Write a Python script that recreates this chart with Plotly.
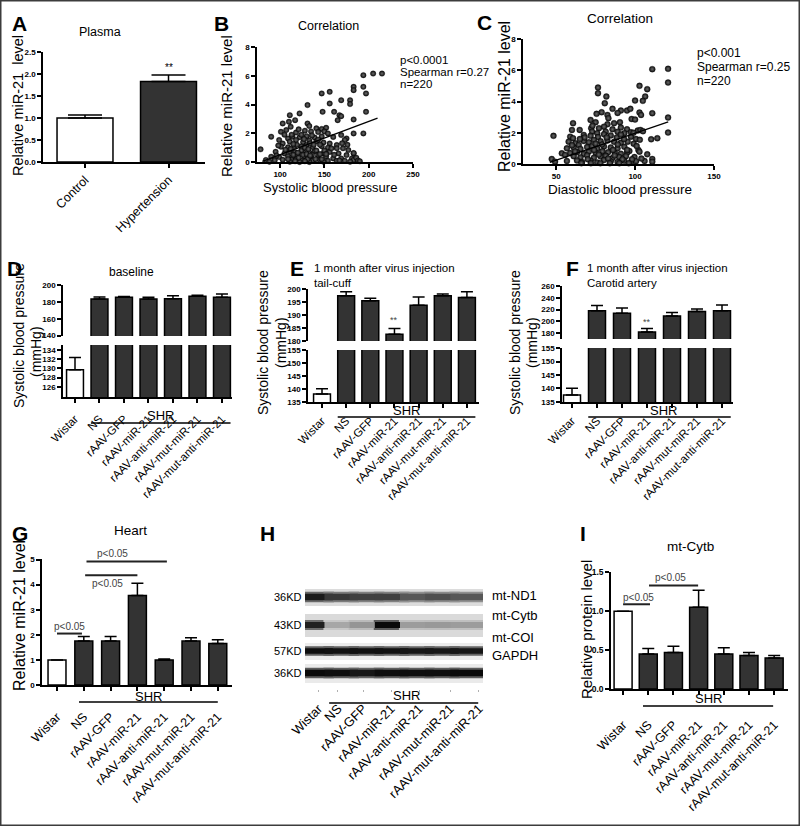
import plotly.graph_objects as go

W, H = 800, 826
FONT = "Arial, Liberation Sans, sans-serif"

# ------------------------------------------------------------------ data
# Panel A - plasma miR-21
a_groups = ["Control", "Hypertension"]
a_mean = [1.00, 1.83]
a_top = [1.07, 1.98]

# Panel B - miR-21 vs systolic blood pressure
b_sbp = [194, 205, 215, 183, 183, 194, 197, 156, 147, 169, 179, 179, 131, 156,
         148, 161, 167, 169, 165, 122, 111, 110, 117, 183, 197,
         103, 112, 131, 133, 141, 147, 152, 90, 78,
         101, 107, 118, 121, 128, 135, 143, 150,
         154, 169, 175, 183, 194,
         99, 109, 114, 122, 130, 139, 147, 160,
         103, 111, 118, 126, 133, 141, 149, 156, 164, 173,
         101, 109, 116, 124, 130, 137, 147, 154, 164, 171, 177, 183,
         95, 105, 111, 117, 126, 133, 139, 149, 156, 166, 175,
         90, 99, 109, 114, 120, 128, 135, 143, 152, 160, 169, 181,
         84, 94, 103, 113, 118, 124, 130, 137, 145, 154, 164, 173, 183,
         88, 111, 122, 133, 149, 179,
         112, 115, 119, 121, 124, 126, 128, 131, 132, 134, 136, 138, 141, 143, 145, 147, 150,
         113, 117, 127, 130, 136, 143,
         115, 120, 124, 128, 134, 140, 145, 152, 158, 161, 167, 170, 176, 186, 188, 190,
         106, 109, 105, 98, 96, 183]
b_mir = [6.04, 6.15, 6.15, 5.23, 5.00, 5.23, 4.77, 4.88, 4.77, 4.30, 4.30, 4.03, 3.96, 4.07,
         3.49, 3.49, 3.26, 3.19, 2.91, 3.38, 3.26, 2.80, 2.91, 2.96, 3.49,
         2.68, 2.45, 2.68, 2.50, 2.34, 2.30, 2.38, 1.76, 0.88,
         2.10, 2.22, 2.05, 2.27, 2.18, 2.13, 2.08, 2.12,
         1.99, 1.87, 1.64, 1.99, 1.99,
         1.53, 1.64, 1.76, 1.72, 1.80, 1.70, 1.78, 1.74,
         1.29, 1.41, 1.53, 1.38, 1.50, 1.44, 1.36, 1.29, 1.18, 1.53,
         1.06, 1.02, 1.11, 1.08, 1.18, 1.04, 1.10, 1.00, 0.95, 0.95, 0.83, 0.60,
         0.71, 0.60, 0.74, 0.68, 0.72, 0.66, 0.75, 0.60, 0.70, 0.60, 0.48,
         0.37, 0.34, 0.40, 0.36, 0.48, 0.33, 0.39, 0.35, 0.38, 0.25, 0.25, 0.25,
         0.14, 0.12, 0.16, 0.14, 0.18, 0.11, 0.15, 0.09, 0.14, 0.09, 0.09, 0.09, 0.14,
         0.02, 0.02, 0.00, 0.00, 0.02, 0.02,
         0.90, 0.50, 1.20, 0.30, 0.80, 0.50, 1.00, 0.20, 0.90, 1.30, 0.50, 1.20, 0.80, 0.50, 1.20, 0.20, 0.80,
         1.90, 0.05, 1.60, 0.55, 1.85, 1.55,
         1.25, 0.65, 1.90, 0.05, 0.45, 0.20, 0.55, 0.55, 0.95, 0.50, 0.10, 1.30, 1.20, 0.30, 0.10, 0.05,
         0.85, 0.20, 1.90, 1.15, 0.45, 0.62]
b_fit_x = [80, 210]
b_fit_y = [0.05, 3.05]
b_stats = ["p<0.0001", "Spearman r=0.27", "n=220"]

# Panel C - miR-21 vs diastolic blood pressure
c_dbp = [110.9, 120.9, 120.9,
         76.5, 76.5, 81.8, 80.8,
         102.8, 107.7, 106.4, 104.9, 100.0,
         85.7, 91.0, 94.9, 88.9, 82.5, 78.8, 75.6,
         97.0, 102.8, 103.8, 110.9, 120.9,
         83.1, 71.8, 60.7, 75.0,
         97.8, 100.0,
         48.3, 60.0, 64.9, 120.9, 110.2, 114.1,
         82.5, 86.7, 90.4, 80.3, 77.1, 91.0, 94.9, 101.7, 103.4,
         72.2, 72.8, 76.0, 81.4, 85.7, 88.9, 93.2, 97.4,
         58.9, 60.7, 57.9, 67.5, 71.8, 76.5, 80.3, 84.6, 88.4, 91.0, 97.4, 100.6,
         62.2, 64.3, 67.5, 70.7, 73.9, 78.2, 82.5, 86.7, 91.0, 95.3, 99.1,
         56.8, 61.1, 65.4, 69.6, 72.8, 76.0, 80.3, 84.6, 88.9, 93.2, 96.4, 102.1,
         53.6, 58.9, 63.2, 67.5, 70.7, 75.0, 79.3, 82.9, 87.2, 91.0, 94.9, 102.8,
         47.2, 55.7, 61.1, 65.4, 69.6, 73.9, 78.2, 81.4, 85.7, 89.9, 94.2, 99.6, 107.7,
         49.3, 56.8, 63.2, 66.4, 71.8, 76.0, 80.3, 84.6, 88.9, 93.2, 97.4, 100.6, 106.0, 110.9, 110.9,
         66, 70, 74, 77, 79, 83, 86, 89, 92, 95, 98, 101, 104,
         68, 72, 78, 84, 90, 96,
         62, 60, 75, 82, 87, 93, 99, 105, 103, 65, 73]
c_mir = [6.07, 6.09, 5.21,
         4.89, 4.53, 4.32, 3.89,
         5.00, 4.79, 4.32, 4.04, 4.06,
         3.53, 3.42, 3.42, 3.27, 3.14, 3.31, 3.21,
         3.53, 3.29, 3.14, 3.25, 2.97,
         2.93, 2.82, 2.61, 2.67,
         2.88, 2.84,
         1.80, 2.18, 2.18, 2.01, 1.58, 1.65,
         2.54, 2.61, 2.67, 2.39, 2.29, 2.33, 2.22, 2.14, 2.18,
         2.29, 2.07, 1.97, 2.07, 2.22, 2.07, 1.97, 2.03,
         1.75, 1.65, 1.43, 1.86, 1.80, 1.72, 1.90, 1.83, 1.70, 1.88, 1.75, 1.60,
         1.32, 1.22, 1.47, 1.39, 1.54, 1.45, 1.50, 1.42, 1.36, 1.43, 1.30,
         1.00, 1.05, 0.96, 1.08, 1.14, 0.98, 1.12, 1.06, 1.00, 1.10, 0.83, 0.90,
         0.68, 0.70, 0.75, 0.64, 0.79, 0.72, 0.81, 0.75, 0.70, 0.66, 0.72, 0.79,
         0.32, 0.58, 0.50, 0.42, 0.55, 0.40, 0.48, 0.52, 0.38, 0.45, 0.50, 0.44, 0.62,
         0.15, 0.19, 0.22, 0.12, 0.20, 0.10, 0.25, 0.17, 0.13, 0.21, 0.10, 0.18, 0.19, 0.32, 0.15,
         0.05, 0.30, 0.90, 0.60, 1.25, 0.35, 0.90, 1.25, 0.30, 0.90, 0.30, 1.15, 0.35,
         1.70, 0.05, 0.05, 0.05, 0.05, 0.05,
         0.80, 1.20, 1.30, 1.70, 0.55, 1.60, 2.00, 2.10, 1.55, 1.60, 2.45]
c_fit_x = [46, 121]
c_fit_y = [0.10, 2.70]
c_stats = ["p<0.001", "Spearman r=0.25", "n=220"]

# Panels D-I share the groups
groups = ["Wistar", "NS", "rAAV-GFP", "rAAV-miR-21", "rAAV-anti-miR-21",
          "rAAV-mut-miR-21", "rAAV-mut-anti-miR-21"]

d_mean = [129.7, 183.5, 185.5, 183.5, 184.0, 186.8, 185.5]   # baseline SBP
d_top = [132.4, 186.0, 186.5, 185.5, 187.5, 188.0, 189.5]
e_mean = [138.0, 197.5, 195.5, 182.5, 193.8, 197.5, 196.8]   # tail-cuff SBP
e_top = [140.0, 199.0, 196.5, 184.8, 197.0, 198.2, 199.0]
f_mean = [137.5, 218.0, 214.0, 182.0, 209.0, 217.0, 218.0]   # carotid SBP
f_top = [140.0, 227.0, 223.0, 188.0, 215.0, 221.0, 228.0]
g_mean = [1.00, 1.75, 1.75, 3.57, 1.00, 1.75, 1.65]          # heart miR-21
g_top = [1.00, 1.93, 1.93, 4.05, 1.04, 1.88, 1.80]
i_mean = [1.00, 0.45, 0.47, 1.05, 0.45, 0.43, 0.40]          # mt-Cytb protein
i_top = [1.00, 0.52, 0.55, 1.27, 0.53, 0.47, 0.43]

g_sig_x0 = [0.0, 1.05, 1.10]
g_sig_x1 = [0.93, 3.0, 4.10]
g_sig_y = [2.05, 4.37, 4.92]
i_sig_x0 = [0.0, 1.03]
i_sig_x1 = [1.07, 2.98]
i_sig_y = [1.09, 1.33]
sig_text = "p<0.05"

# Panel H - western blot band darkness (0 = none, 1 = black)
blot_rows = ["mt-ND1", "mt-Cytb", "mt-COI", "GAPDH"]
blot_kd = ["36KD", "43KD", "57KD", "36KD"]
blot_intensity = [
    [0.88, 0.72, 0.68, 0.68, 0.55, 0.60, 0.55],
    [0.85, 0.12, 0.22, 0.97, 0.18, 0.20, 0.18],
    [0.95, 0.93, 0.93, 0.93, 0.90, 0.90, 0.90],
    [0.97, 0.95, 0.90, 0.95, 0.95, 0.95, 0.97],
]

# ------------------------------------------------------------------ helpers
def xd(a, b):
    return [a / W, b / W]


def yd(top, bottom):
    return [1 - bottom / H, 1 - top / H]


def px(x):
    return x / W


def py(y):
    return 1 - y / H


AX = dict(showline=True, linecolor="black", linewidth=1.5, ticks="outside",
          ticklen=4, tickwidth=1.5, tickcolor="black", showgrid=False,
          zeroline=False, fixedrange=True, automargin=False)


def num_axis(domain, rng, anchor, vals, texts=None, size=8):
    return dict(AX, domain=domain, range=rng, anchor=anchor, tickmode="array",
                tickvals=vals, ticktext=texts if texts else [str(v) for v in vals],
                tickfont=dict(family=FONT, size=size, color="black", weight="bold"))


def cat_axis(domain, rng, anchor, labels, size, standoff, vals=None):
    return dict(AX, domain=domain, range=rng, anchor=anchor, tickmode="array",
                tickvals=vals if vals is not None else list(range(len(labels))),
                ticktext=labels, tickangle=-45,
                tickfont=dict(family=FONT, size=size, color="black"),
                ticklabelstandoff=standoff)


traces = []
annotations = []
shapes = []


def ann(text, x, y, size, xanchor="center", yanchor="middle", angle=0,
        bold=False, color="black", xref="paper", yref="paper"):
    annotations.append(dict(
        text=text, x=px(x) if xref == "paper" else x,
        y=py(y) if yref == "paper" else y, xref=xref, yref=yref,
        xanchor=xanchor, yanchor=yanchor, showarrow=False, textangle=angle,
        font=dict(family=FONT, size=size, color=color,
                  weight="bold" if bold else "normal")))


def bars(vals, tops, xa, ya, width, cap):
    n = len(vals)
    colors = ["white"] + ["#333333"] * (n - 1)
    traces.append(go.Bar(
        x=list(range(n)), y=vals, width=width, xaxis=xa, yaxis=ya,
        marker=dict(color=colors, line=dict(color="black", width=1.5)),
        error_y=dict(type="data", symmetric=False,
                     array=[t - v for t, v in zip(tops, vals)],
                     arrayminus=[0] * n, color="black", thickness=1.5, width=cap),
        showlegend=False, hoverinfo="skip"))


def shr(xa, x0, x1, line_y, text_y, text_x):
    shapes.append(dict(type="line", xref=xa, yref="paper", x0=x0, x1=x1,
                       y0=py(line_y), y1=py(line_y),
                       line=dict(color="black", width=1.5)))
    ann("SHR", text_x, text_y, 13, xref=xa)


def sig(xa, ya, x0s, x1s, ys):
    for a, b, h in zip(x0s, x1s, ys):
        traces.append(go.Scatter(x=[a, b], y=[h, h], xaxis=xa, yaxis=ya,
                                 mode="lines", line=dict(color="#222", width=2),
                                 cliponaxis=False, showlegend=False,
                                 hoverinfo="skip"))


layout = dict(width=W, height=H, autosize=False,
              margin=dict(l=0, r=0, t=0, b=0, pad=0, autoexpand=False),
              paper_bgcolor="white", plot_bgcolor="white", barmode="overlay",
              showlegend=False, font=dict(family=FONT, color="black"))

# ------------------------------------------------------------------ A
layout["xaxis"] = cat_axis(xd(43, 205), [-0.503, 1.437], "y", a_groups, 12.5, 0)
layout["yaxis"] = num_axis(yd(52, 162), [0, 2.5], "x",
                           [0, 0.5, 1.0, 1.5, 2.0, 2.5],
                           ["0.0", "0.5", "1.0", "1.5", "2.0", "2.5"])
traces.append(go.Bar(
    x=[0, 1], y=a_mean, width=0.67, xaxis="x", yaxis="y",
    marker=dict(color=["white", "#333333"], line=dict(color="black", width=1.5)),
    error_y=dict(type="data", symmetric=False,
                 array=[t - v for t, v in zip(a_top, a_mean)], arrayminus=[0, 0],
                 color="black", thickness=1.5, width=17),
    showlegend=False, hoverinfo="skip"))
ann("**", 1, a_top[1] + 0.17, 10, xref="x", yref="y")
ann("A", 19, 24, 21, bold=True)
ann("Plasma", 100, 32, 12.5)
ann("Relative miR-21  level", 18, 106, 14.5, angle=-90)

# ------------------------------------------------------------------ B & C scatter
MK = dict(size=5.5, color="#0d0d0d", gradient=dict(type="radial", color="#6a6a6a"),
          line=dict(width=0.3, color="#000000"))
layout["xaxis2"] = num_axis(xd(257, 413), [74, 250], "y2", [100, 150, 200, 250])
layout["yaxis2"] = num_axis(yd(47, 162), [0, 8], "x2", [0, 2, 4, 6, 8])
traces.append(go.Scatter(x=b_sbp, y=b_mir, xaxis="x2", yaxis="y2", mode="markers",
                         marker=MK, cliponaxis=False, showlegend=False))
traces.append(go.Scatter(x=b_fit_x, y=b_fit_y, xaxis="x2", yaxis="y2", mode="lines",
                         line=dict(color="black", width=1.3), showlegend=False))
ann("B", 221, 24, 21, bold=True)
ann("Correlation", 328, 26, 12.5)
ann("Relative miR-21 level", 226, 106, 15, angle=-90)
ann("Systolic blood pressure", 330, 187, 13)
for k, s in enumerate(b_stats):
    ann(s, 398, 60 + 12 * k, 11.5, xanchor="left")

MK3 = dict(MK, size=6)
layout["xaxis3"] = num_axis(xd(523, 714), [29, 150], "y3", [50, 100, 150])
layout["yaxis3"] = num_axis(yd(39, 164), [0, 8], "x3", [0, 2, 4, 6, 8])
traces.append(go.Scatter(x=c_dbp, y=c_mir, xaxis="x3", yaxis="y3", mode="markers",
                         marker=MK3, cliponaxis=False, showlegend=False))
traces.append(go.Scatter(x=c_fit_x, y=c_fit_y, xaxis="x3", yaxis="y3", mode="lines",
                         line=dict(color="black", width=1.3), showlegend=False))
ann("C", 484, 22, 21, bold=True)
ann("Correlation", 620, 18, 13.5)
ann("Relative miR-21 level", 504, 97, 16, angle=-90)
ann("Diastolic blood pressure", 620, 190, 13.5)
for k, s in enumerate(c_stats):
    ann(s, 695, 53 + 14 * k, 12, xanchor="left")

# ------------------------------------------------------------------ D (broken axis)
layout["xaxis4"] = cat_axis(xd(63, 232), [-0.49, 6.41], "y4", groups, 11.5, 5)
layout["yaxis4"] = num_axis(yd(345, 397), [123.8, 135.1], "x4",
                            [126, 128, 130, 132, 134])
layout["yaxis5"] = num_axis(yd(285, 336), [139.6, 200.2], "x4", [140, 160, 180, 200])
bars(d_mean, d_top, "x4", "y4", 0.69, 6)
bars(d_mean, d_top, "x4", "y5", 0.69, 6)
shr("x4", 1 - 0.35, 6 + 0.35, 423, 415, 3.5)
ann("D", 14, 268, 21, bold=True)
ann("baseline", 131, 272, 12)
ann("Systolic blood pressure", 19, 336, 14, angle=-90)
ann("(mmHg)", 36, 352, 14, angle=-90)

# ------------------------------------------------------------------ E
layout["xaxis5"] = cat_axis(xd(308, 479), [-0.58, 6.5], "y6", groups, 11.5, 2)
layout["yaxis6"] = num_axis(yd(350, 402), [134.9, 155.1], "x5",
                            [135, 140, 145, 150, 155])
layout["yaxis7"] = num_axis(yd(289, 341), [179.9, 200.1], "x5",
                            [180, 185, 190, 195, 200])
bars(e_mean, e_top, "x5", "y6", 0.70, 6)
bars(e_mean, e_top, "x5", "y7", 0.70, 6)
ann("**", 3, e_top[3] + 3.2, 9, xref="x5", yref="y7", color="#444")
shr("x5", 1 - 0.35, 6 + 0.35, 417, 410, 3.5)
ann("E", 297, 268, 21, bold=True)
ann("1 month after virus injection", 312, 268, 11.5, xanchor="left")
ann("tail-cuff", 312, 283, 11.5, xanchor="left")
ann("Systolic blood pressure", 263, 343, 14, angle=-90)
ann("(mmHg)", 281, 343, 14, angle=-90)

# ------------------------------------------------------------------ F
layout["xaxis6"] = cat_axis(xd(562, 733), [-0.4, 6.44], "y8", groups, 11.5, 2)
layout["yaxis8"] = num_axis(yd(348, 402), [134.9, 155.1], "x6",
                            [135, 140, 145, 150, 155])
layout["yaxis9"] = num_axis(yd(286, 339), [170, 260.3], "x6",
                            [180, 200, 220, 240, 260])
bars(f_mean, f_top, "x6", "y8", 0.68, 6)
bars(f_mean, f_top, "x6", "y9", 0.68, 6)
ann("**", 3, f_top[3] + 11, 9, xref="x6", yref="y9", color="#444")
shr("x6", 1 - 0.35, 6 + 0.35, 417, 410, 3.64)
ann("F", 572, 268, 21, bold=True)
ann("1 month after virus injection", 585, 268, 11.5, xanchor="left")
ann("Carotid artery", 585, 283, 11.5, xanchor="left")
ann("Systolic blood pressure", 515, 343, 14, angle=-90)
ann("(mmHg)", 532, 343, 14, angle=-90)

# ------------------------------------------------------------------ G
layout["xaxis7"] = cat_axis(xd(42, 232), [-0.56, 6.53], "y10", groups, 12.5, 14)
layout["yaxis10"] = num_axis(yd(559, 685), [0, 5.02], "x7", [0, 1, 2, 3, 4, 5])
bars(g_mean, g_top, "x7", "y10", 0.67, 6)
sig("x7", "y10", g_sig_x0, g_sig_x1, g_sig_y)
ann(sig_text, 0.48, g_sig_y[0] + 0.3, 10, xref="x7", yref="y10", color="#444")
ann(sig_text, 1.87, g_sig_y[1] - 0.32, 10, xref="x7", yref="y10", color="#444")
ann(sig_text, 113, 553, 10, color="#444")
shr("x7", 0.82, 6.0, 702, 696, 3.4)
ann("G", 20, 533, 21, bold=True)
ann("Heart", 130, 530, 13.5)
ann("Relative miR-21 level", 19, 616, 16, angle=-90)

# ------------------------------------------------------------------ H (blot)
lane_x = list(range(len(groups)))
row_pos = [12, 40, 66, 88]
row_bg = [(4, 21, "#dcdcdc"), (29, 52, "#dadada"), (58, 75, "#ececec"),
          (79, 98, "#eaeaea")]
row_thick = [6.5, 6, 5.5, 6.5]
label_ticks = [0.1, 0.87, 1.87, 2.98, 4.09, 5.32, 6.47]
hx = cat_axis(xd(305, 483), [-0.44, 6.63], "y11", groups, 13, 4, label_ticks)
hx.update(showline=False, tickcolor="#b0b0b0", ticklen=2, tickwidth=1)
layout["xaxis8"] = hx
layout["yaxis11"] = dict(domain=yd(585, 689), range=[104, 0], anchor="x8",
                         visible=False, fixedrange=True, automargin=False)
for y0, y1, col in row_bg:
    shapes.append(dict(type="rect", xref="x8 domain", yref="y11", x0=0, x1=1,
                       y0=y0, y1=y1, fillcolor=col, line=dict(width=0),
                       layer="below"))
for r, name in enumerate(blot_rows):
    inten = blot_intensity[r]
    halo = ["rgb({0},{0},{0})".format(int(214 - 125 * v)) for v in inten]
    core = ["rgb({0},{0},{0})".format(int(190 - 185 * v)) for v in inten]
    traces.append(go.Scatter(
        x=lane_x, y=[row_pos[r]] * len(lane_x), xaxis="x8", yaxis="y11",
        mode="markers", hoverinfo="skip", showlegend=False,
        marker=dict(symbol="line-ew", size=25.5,
                    line=dict(width=row_thick[r] + 4, color=halo))))
    traces.append(go.Scatter(
        x=lane_x, y=[row_pos[r]] * len(lane_x), xaxis="x8", yaxis="y11",
        mode="markers", hoverinfo="skip", showlegend=False,
        marker=dict(symbol="line-ew", size=24,
                    line=dict(width=row_thick[r], color=core))))
    ann(blot_kd[r], 304, 585 + row_pos[r], 11, xanchor="right")
label_y = [595, 615, 637, 655]
for r, name in enumerate(blot_rows):
    ann(name, 490, label_y[r], 13, xanchor="left")
shr("x8", 0.52, 6.44, 703, 695, 3.6)
ann("H", 267, 533, 21, bold=True)

# ------------------------------------------------------------------ I
layout["xaxis9"] = cat_axis(xd(611, 788), [-0.48, 6.55], "y12", groups, 12.5, 18)
layout["yaxis12"] = num_axis(yd(572, 689), [0, 1.505], "x9", [0, 0.5, 1.0, 1.5],
                             ["0.0", "0.5", "1.0", "1.5"], size=8.5)
bars(i_mean, i_top, "x9", "y12", 0.715, 6)
sig("x9", "y12", i_sig_x0, i_sig_x1, i_sig_y)
ann(sig_text, 0.6, i_sig_y[0] + 0.09, 10, xref="x9", yref="y12", color="#444")
ann(sig_text, 1.87, i_sig_y[1] + 0.11, 10, xref="x9", yref="y12", color="#444")
shr("x9", 0.79, 5.96, 706, 698, 3.38)
ann("I", 583, 533, 21, bold=True)
ann("mt-Cytb", 690, 546, 13.5)
ann("Relative protein level", 586, 630, 15, angle=-90)

# ------------------------------------------------------------------ frame
shapes.append(dict(type="rect", xref="paper", yref="paper", x0=0, x1=1, y0=0, y1=1,
                   line=dict(color="#3c3c3c", width=3)))

layout["annotations"] = annotations
layout["shapes"] = shapes
fig = go.Figure(data=traces, layout=layout)
fig.write_html(
    "out.html",
    config={"displayModeBar": False, "responsive": False},
    post_script=(
        "var d=document.getElementById('{plot_id}');"
        "d.style.position='absolute';d.style.left='0px';d.style.top='0px';"
        "document.body.style.margin='0';"
        "document.documentElement.style.overflow='hidden';"
        "document.body.style.overflow='hidden';"))
